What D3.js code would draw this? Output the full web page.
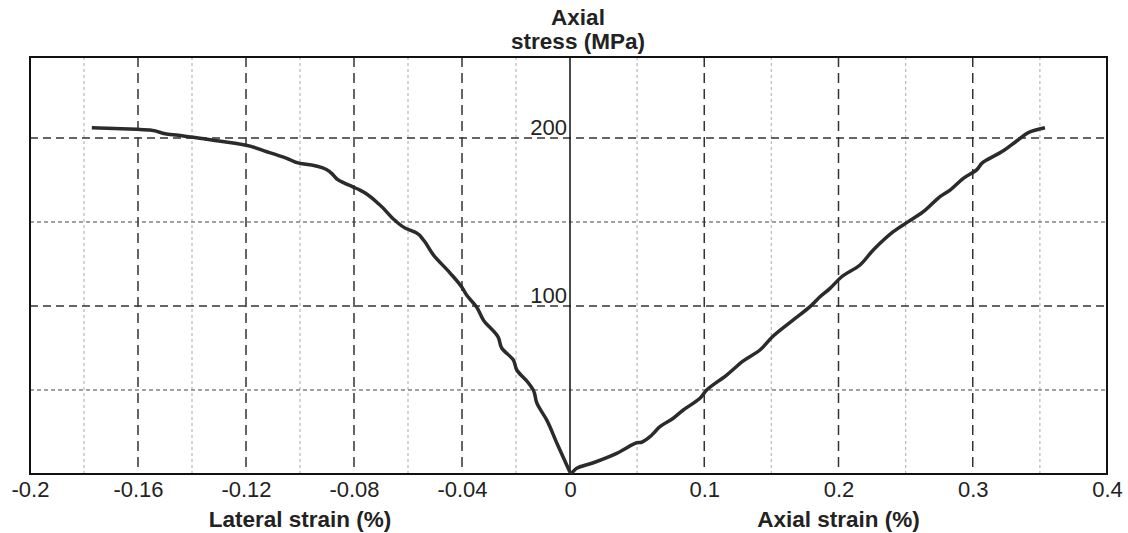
<!DOCTYPE html>
<html>
<head>
<meta charset="utf-8">
<script src="https://cdn.jsdelivr.net/npm/d3@7"></script>
<style>
  body { margin: 0; background: #fff; }
  svg text { font-family: "Liberation Sans", Arial, sans-serif; fill: #222; }
</style>
</head>
<body>
<div id="chart"></div>
<script>
// data
var lateralStrain = [0, -0.0049, -0.0086, -0.0123, -0.0136, -0.0154, -0.0197, -0.0210, -0.0253, -0.0266,
  -0.0321, -0.0346, -0.0383, -0.0401, -0.0444, -0.0506, -0.0543, -0.0568, -0.0611, -0.0642,
  -0.0704, -0.0778, -0.0803, -0.0858, -0.0889, -0.0914, -0.0957, -0.1, -0.1049, -0.1123,
  -0.1204, -0.1346, -0.1432, -0.1494, -0.1556, -0.1605, -0.1771];
var lateralStress = [1, 18.5, 32.1, 42.3, 50, 54.2, 61.9, 67.9, 75, 81.5,
  91.7, 99.4, 106.5, 111.3, 119.6, 130.4, 139.3, 143.5, 146.4, 150,
  160.1, 169, 170.8, 175, 179.8, 182.1, 183.9, 184.9, 187.9, 191.8,
  195.8, 199.2, 201.2, 202.4, 204.8, 205.2, 206.1];

var axialStrain = [0, 0.0013, 0.005, 0.0174, 0.0348, 0.0497, 0.0534, 0.0596, 0.0633, 0.067,
  0.0769, 0.0844, 0.0968, 0.1018, 0.1167, 0.1291, 0.1415, 0.1514, 0.1663, 0.1788,
  0.1862, 0.1937, 0.2024, 0.216, 0.2259, 0.2408, 0.252, 0.2632, 0.2756, 0.2831,
  0.293, 0.3029, 0.3067, 0.3104, 0.3228, 0.3327, 0.3414, 0.3538];
var axialStress = [1, 0.8, 3.4, 6.7, 12.3, 18.6, 18.9, 22.2, 25.2, 28.2,
  33.2, 38.1, 45.1, 50, 58.9, 67.3, 73.8, 82.1, 91.7, 99.6,
  105.5, 110.5, 117.4, 124.4, 133.3, 144.2, 150.2, 156.1, 165.1, 169,
  176, 181, 184.9, 186.9, 192.4, 198.2, 203.2, 206.1];

var lateralTicks = [-0.2, -0.16, -0.12, -0.08, -0.04, 0];
var lateralMinor = [-0.18, -0.14, -0.1, -0.06, -0.02];
var axialTicks = [0.1, 0.2, 0.3, 0.4];
var axialMinor = [0.05, 0.15, 0.25, 0.35];
var stressTicks = [100, 200];
var stressMinor = [50, 150];

// layout
var width = 1128, height = 533;
var plotLeft = 30, plotMid = 570, plotRight = 1107, plotTop = 57, plotBottom = 474;

var svg = d3.select("#chart").append("svg")
  .attr("width", width)
  .attr("height", height);

var xL = d3.scaleLinear().domain([-0.2, 0]).range([plotLeft, plotMid]);
var xR = d3.scaleLinear().domain([0, 0.4]).range([plotMid, plotRight]);
var y = d3.scaleLinear().domain([0, 248.2]).range([plotBottom, plotTop]);

// grid: light vertical minors
var grid = svg.append("g");
grid.selectAll(".vminL").data(lateralMinor).enter().append("line")
  .attr("x1", d => xL(d)).attr("x2", d => xL(d))
  .attr("y1", plotTop).attr("y2", plotBottom)
  .attr("stroke", "#bdbdbd").attr("stroke-width", 1.3).attr("stroke-dasharray", "3,3");
grid.selectAll(".vminR").data(axialMinor).enter().append("line")
  .attr("x1", d => xR(d)).attr("x2", d => xR(d))
  .attr("y1", plotTop).attr("y2", plotBottom)
  .attr("stroke", "#bdbdbd").attr("stroke-width", 1.3).attr("stroke-dasharray", "3,3");

// horizontal minors (fine dark dashes)
grid.selectAll(".hmin").data(stressMinor).enter().append("line")
  .attr("x1", plotLeft).attr("x2", plotRight)
  .attr("y1", d => y(d)).attr("y2", d => y(d))
  .attr("stroke", "#444").attr("stroke-width", 1).attr("stroke-dasharray", "4,3");

// major dashed lines
grid.selectAll(".vmajL").data(lateralTicks.filter(d => d > -0.2 && d < 0)).enter().append("line")
  .attr("x1", d => xL(d)).attr("x2", d => xL(d))
  .attr("y1", plotTop).attr("y2", plotBottom)
  .attr("stroke", "#333").attr("stroke-width", 1.5).attr("stroke-dasharray", "10,6");
grid.selectAll(".vmajR").data(axialTicks.filter(d => d < 0.4)).enter().append("line")
  .attr("x1", d => xR(d)).attr("x2", d => xR(d))
  .attr("y1", plotTop).attr("y2", plotBottom)
  .attr("stroke", "#333").attr("stroke-width", 1.5).attr("stroke-dasharray", "10,6");
grid.selectAll(".hmaj").data(stressTicks).enter().append("line")
  .attr("x1", plotLeft).attr("x2", plotRight)
  .attr("y1", d => y(d)).attr("y2", d => y(d))
  .attr("stroke", "#333").attr("stroke-width", 1.5).attr("stroke-dasharray", "8,5");

// center stress axis
svg.append("line")
  .attr("x1", plotMid).attr("x2", plotMid).attr("y1", plotTop).attr("y2", plotBottom)
  .attr("stroke", "#111").attr("stroke-width", 1.5);

// frame
svg.append("rect")
  .attr("x", plotLeft).attr("y", plotTop)
  .attr("width", plotRight - plotLeft).attr("height", plotBottom - plotTop)
  .attr("fill", "none").attr("stroke", "#111").attr("stroke-width", 2);

// curves
var lateralPts = lateralStrain.map((s, i) => [s, lateralStress[i]]);
var axialPts = axialStrain.map((s, i) => [s, axialStress[i]]);

var lineL = d3.line().x(d => xL(d[0])).y(d => y(d[1])).curve(d3.curveMonotoneY);
var lineR = d3.line().x(d => xR(d[0])).y(d => y(d[1])).curve(d3.curveCatmullRom);

svg.append("path").datum(lateralPts)
  .attr("d", lineL)
  .attr("fill", "none").attr("stroke", "#2b2b2b").attr("stroke-width", 3.5)
  .attr("stroke-linejoin", "round");
svg.append("path").datum(axialPts)
  .attr("d", lineR)
  .attr("fill", "none").attr("stroke", "#2b2b2b").attr("stroke-width", 3.5)
  .attr("stroke-linejoin", "round");

// x axes (labels only), plain hyphen for minus like the original
var fmt = d => String(+d.toFixed(2));
var axL = svg.append("g").attr("transform", `translate(0,${plotBottom})`)
  .call(d3.axisBottom(xL).tickValues(lateralTicks).tickSize(0).tickPadding(7).tickFormat(fmt));
var axR = svg.append("g").attr("transform", `translate(0,${plotBottom})`)
  .call(d3.axisBottom(xR).tickValues(axialTicks).tickSize(0).tickPadding(7).tickFormat(fmt));
[axL, axR].forEach(function (g) {
  g.select(".domain").remove();
  g.selectAll("text")
    .style("font-family", "'Liberation Sans', Arial, sans-serif")
    .style("font-size", "22px")
    .attr("fill", "#222");
});

// stress labels along center axis
svg.selectAll(".ylab").data(stressTicks).enter().append("text")
  .attr("x", plotMid - 3)
  .attr("y", d => y(d) - 3)
  .attr("text-anchor", "end")
  .style("font-size", "22px")
  .text(d => d);

// titles
var yTitle = svg.append("text")
  .attr("text-anchor", "middle")
  .style("font-size", "22.5px").style("font-weight", "bold");
yTitle.append("tspan").attr("x", 578).attr("y", 25).text("Axial");
yTitle.append("tspan").attr("x", 578).attr("y", 49).text("stress (MPa)");

svg.append("text")
  .attr("x", xL(-0.1)).attr("y", 527)
  .attr("text-anchor", "middle")
  .style("font-size", "22.5px").style("font-weight", "bold")
  .text("Lateral strain (%)");

svg.append("text")
  .attr("x", xR(0.2)).attr("y", 527)
  .attr("text-anchor", "middle")
  .style("font-size", "22.5px").style("font-weight", "bold")
  .text("Axial strain (%)");
</script>
</body>
</html>
